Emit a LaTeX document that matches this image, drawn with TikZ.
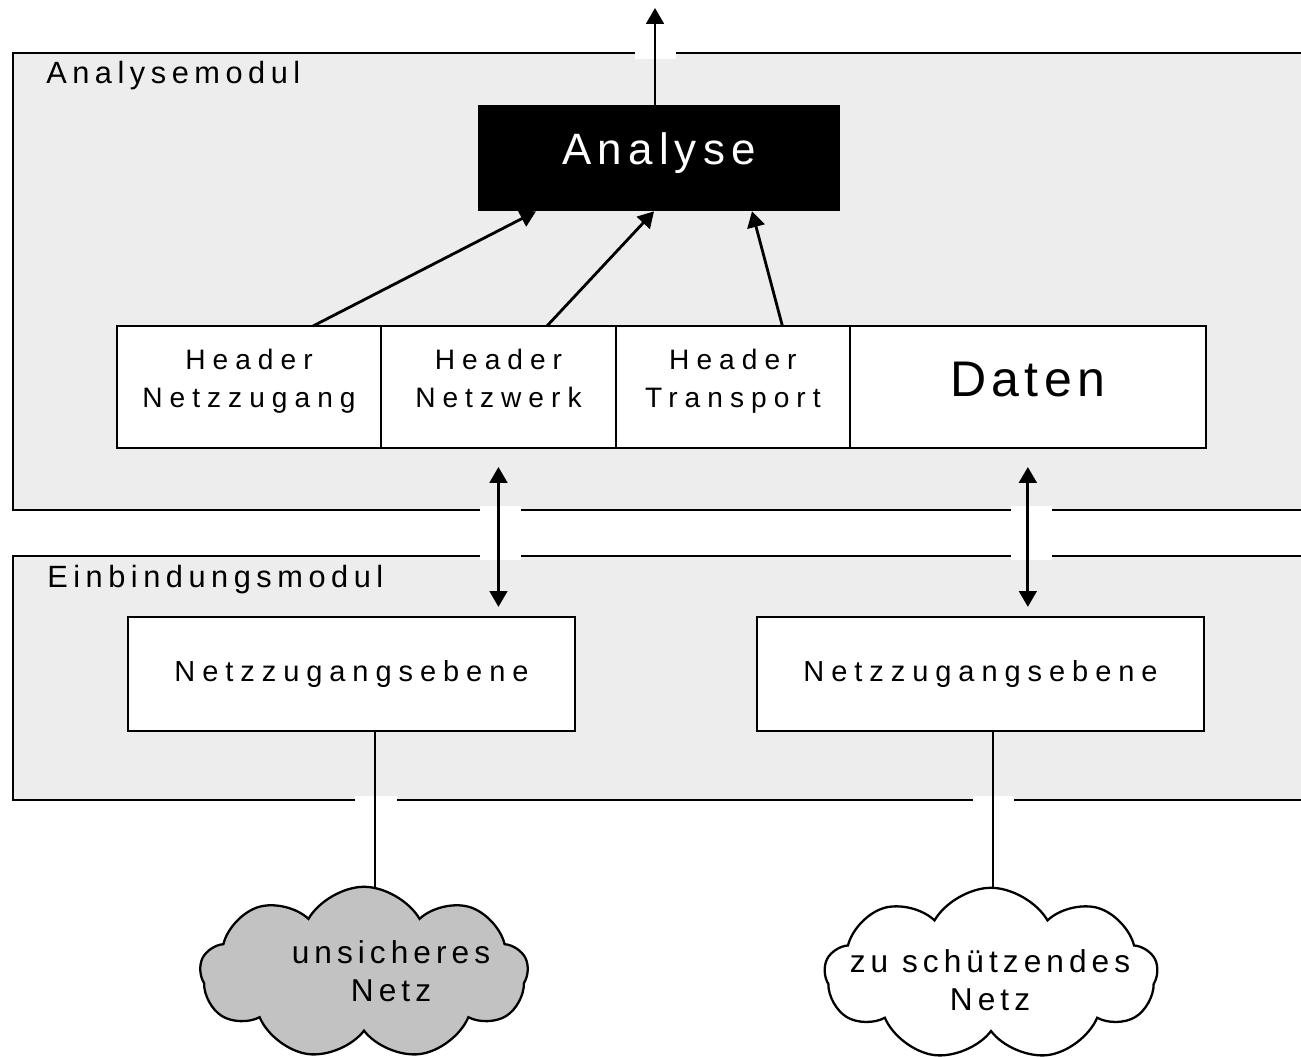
\documentclass[tikz,border=0pt]{standalone}
\usepackage{fontspec}
\setmainfont{Liberation Sans}
\usetikzlibrary{positioning,arrows.meta,shapes.symbols}

\definecolor{modulgrau}{HTML}{EDEDED}
\definecolor{wolkengrau}{HTML}{C2C2C2}

\tikzset{
  modul/.style={fill=modulgrau, draw=black, line width=1.3pt},
  modlabel/.style={anchor=base west, inner sep=0pt,
    font={\fontsize{17.5}{21}\selectfont\addfontfeature{LetterSpace=18}}},
  cell/.style={draw, fill=white, line width=1.3pt, outer sep=0pt, inner sep=0pt,
    minimum height=2.44cm, align=center, text depth=9.5pt,
    font={\fontsize{16}{21.6}\selectfont\addfontfeature{LetterSpace=25}}},
  ebene/.style={draw, fill=white, line width=1.3pt, inner sep=0pt,
    minimum width=8.94cm, minimum height=2.28cm,
    font={\fontsize{16.5}{18}\selectfont\addfontfeature{LetterSpace=24}}},
  wolke/.style={cloud, draw, line width=1.3pt, cloud puffs=9, cloud puff arc=120,
    cloud ignores aspect, inner sep=0pt, minimum height=3.45cm},
  wolketext/.style={align=center, inner sep=0pt,
    font={\fontsize{18}{21.6}\selectfont\addfontfeature{LetterSpace=16}}},
  pfeil/.style={-{Triangle[width=10pt,length=9pt]}, line width=1.6pt},
  doppelpfeil/.style={{Triangle[width=10pt,length=9pt]}-{Triangle[width=10pt,length=9pt]}, line width=1.6pt},
  linie/.style={line width=1.6pt}
}

\begin{document}
\begin{tikzpicture}[x=0.02cm, y=-0.02cm]
\useasboundingbox (0,0) rectangle (1301,1056);

\draw[modul] (13,53) rectangle (1330,510);
\draw[modul] (13,556) rectangle (1330,800);
\fill[white] (635,47) rectangle (676,59);
\fill[white] (480,506) rectangle (521,560);
\fill[white] (1011,506) rectangle (1052,560);
\fill[white] (355,796) rectangle (397,806);
\fill[white] (973,796) rectangle (1014,806);

\node [modlabel] (lblana) at (46,83) {Analysemodul};
\node [modlabel] (lblein) at (47,587) {Einbindungsmodul};

\node [fill=black, text=white, minimum width=7.24cm, minimum height=2.12cm, text depth=11pt,
  font={\fontsize{25}{30}\selectfont\addfontfeature{LetterSpace=14}}] (ana) at (659,158) {Analyse};
\coordinate (ausgabe) at (655,8);

\node [cell, minimum width=5.28cm] (hnz) at (249,387) {Header\\Netzzugang};
\node [cell, minimum width=4.7cm] [right=0pt of hnz] (hnw) {Header\\Netzwerk};
\node [cell, minimum width=4.68cm] [right=0pt of hnw] (htr) {Header\\Transport};
\node [cell, minimum width=7.12cm, text depth=9.3pt,
  font={\fontsize{28.5}{34}\selectfont\addfontfeature{LetterSpace=11}}] [right=0pt of htr] (daten) {Daten};

\node [ebene] (nzl) at (351.5,674) {Netzzugangsebene};
\node [ebene] (nzr) at (980.5,674) {Netzzugangsebene};

\draw[pfeil] (ana.north -| ausgabe) -- (ausgabe);
\draw[pfeil] ([xshift=1.28cm]hnz.north) -- ([xshift=-2.46cm]ana.south);
\draw[pfeil] ([xshift=0.97cm]hnw.north) -- ([xshift=-0.1cm]ana.south);
\draw[pfeil] ([xshift=0.99cm]htr.north) -- ([xshift=1.86cm]ana.south);

\draw[doppelpfeil] ([yshift=-0.38cm]hnw.south) -- ([yshift=0.18cm]nzl.north -| hnw.south);
\draw[doppelpfeil] ([yshift=-0.38cm]daten.south) -- ([yshift=0.18cm]nzr.north -| daten.south);

\coordinate (wl) at (364,973);
\coordinate (wr) at (991,974);
\draw[linie] ([xshift=0.47cm]nzl.south) -- ([xshift=0.47cm]nzl.south |- wl);
\draw[linie] ([xshift=0.25cm]nzr.south) -- ([xshift=0.25cm]nzr.south |- wr);

\node [wolke, fill=wolkengrau, minimum width=6.56cm] (wolkel) at (wl) {};
\node [wolke, fill=white, minimum width=6.66cm] (wolker) at (wr) {};
\node [wolketext] (txtl) at (391,971) {unsicheres\\Netz};
\node [wolketext] (txtr) at (990,980) {zu schützendes\\Netz};
\end{tikzpicture}
\end{document}
